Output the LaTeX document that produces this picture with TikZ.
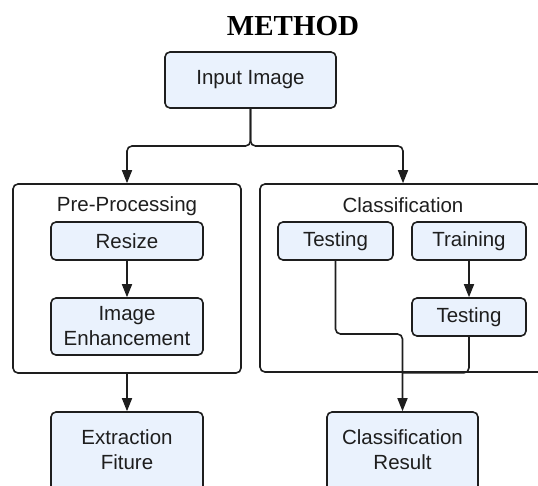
\documentclass[tikz,border=0pt]{standalone}
\usepackage{fontspec}
\setmainfont{Liberation Sans}
\newfontfamily\titlefont{Liberation Serif}
\usetikzlibrary{arrows.meta}
\definecolor{boxfill}{RGB}{234,242,253}
\definecolor{ink}{RGB}{30,30,30}
\tikzstyle{stepbox}=[rectangle,rounded corners=5pt,draw=ink,line width=1.6pt,fill=boxfill,align=center,inner sep=0pt,font=\fontsize{20.5}{25}\selectfont,text=ink]
\tikzstyle{lowbox}=[stepbox,minimum width=152pt,minimum height=90pt,text depth=14pt]
\tikzstyle{group}=[rectangle,rounded corners=5pt,draw=ink,line width=1.6pt,inner sep=0pt]
\tikzstyle{grouplabel}=[font=\fontsize{20.5}{25}\selectfont,text=ink]
\tikzstyle{edge} = [draw=ink,line width=1.6pt,->]
\tikzstyle{plainedge} = [draw=ink,line width=1.6pt]

\begin{document}
\begin{tikzpicture}[x=1pt,y=-1pt,>={Triangle[length=13pt,width=10pt]}]
    \useasboundingbox (0,0) rectangle (538,485);
    % title
    \node[font=\titlefont\bfseries\fontsize{29}{32}\selectfont] (title) at (293,26) {METHOD};

    % the two groups first
    \node[group,minimum width=228pt,minimum height=189pt] (pre) at (127,278.5) {};
    \node[group,minimum width=286pt,minimum height=188pt] (cls) at (403,278) {};
    \node[grouplabel] (prelabel) at (127,206) {Pre-Processing};
    \node[grouplabel] (clslabel) at (403,205) {Classification};

    % then the steps
    \node[stepbox,minimum width=171pt,minimum height=56pt] (input) at (250.5,80) {Input Image};
    \foreach \pos/\name/\label/\w/\h in {{(127,241)/resize/Resize/152/38},
        {(127,326.5)/enhance/Image\\Enhancement/152/57},
        {(335.5,241)/testa/Testing/115/38},
        {(469,241)/train/Training/114/38},
        {(469,317)/testb/Testing/114/38}}
        \node[stepbox,minimum width=\w pt,minimum height=\h pt] (\name) at \pos {\label};
    % these two run off the bottom edge
    \node[lowbox] (extract) at (127,457) {Extraction\\Fiture};
    \node[lowbox,minimum width=151pt] (result) at (402.5,457) {Classification\\Result};

    % connect them
    \coordinate (split) at (250.5,146);
    \coordinate (merge) at (402.5,334);
    \path[edge,rounded corners=5pt] (input.south) -- (split) -| (pre.north);
    \path[edge,rounded corners=5pt] (input.south) -- (split) -| (cls.north);
    \foreach \source/\dest in {resize/enhance, pre/extract, train/testb}
        \path[edge] (\source) -- (\dest);
    \path[edge,rounded corners=5pt] (testa.south) |- (merge) -- (result.north);
    \path[plainedge,rounded corners=5pt] (testb.south) |- (cls.south);
\end{tikzpicture}
\end{document}
